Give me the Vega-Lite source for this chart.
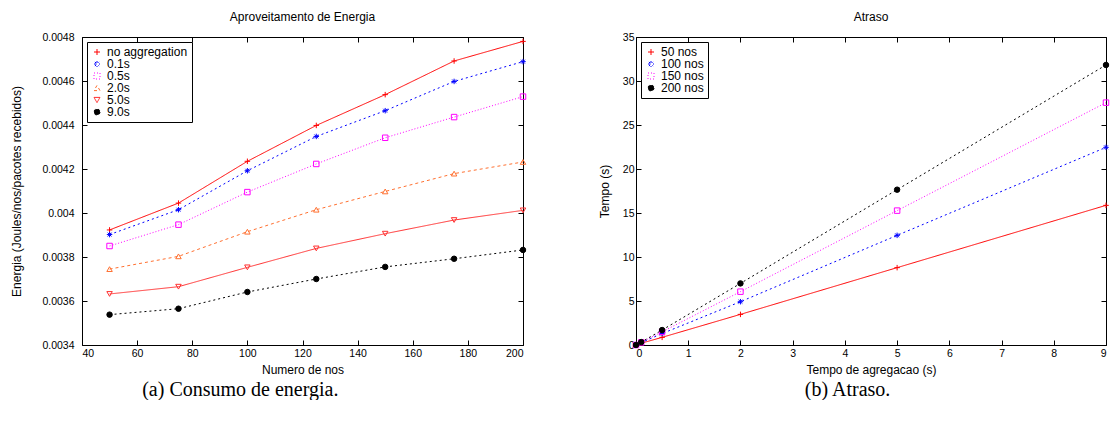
{
  "$schema": "https://vega.github.io/schema/vega-lite/v6.json",
  "padding": {"left": 10, "top": 10, "right": 0, "bottom": 0},
  "config": {
    "font": "Liberation Sans",
    "view": {"stroke": "black", "strokeWidth": 1},
    "axis": {
      "labelFont": "Liberation Sans", "labelFontSize": 10.5, "labelColor": "black",
      "titleFont": "Liberation Sans", "titleFontSize": 12, "titleFontWeight": "normal", "titleColor": "black",
      "tickColor": "black", "tickSize": -5, "domain": false, "grid": false
    },
    "axisX": {"labelPadding": 8},
    "title": {"font": "Liberation Sans", "fontSize": 12, "fontWeight": "normal", "color": "black", "offset": 8},
    "legend": {
      "orient": "top-left", "offset": 5, "strokeColor": "black", "fillColor": "white", "padding": 4,
      "labelFont": "Liberation Sans", "labelFontSize": 12, "rowPadding": 0, "symbolSize": 36,
      "symbolStrokeWidth": 1, "title": null
    }
  },
  "resolve": {
    "scale": {"color": "independent", "shape": "independent", "strokeDash": "independent", "fill": "independent", "strokeWidth": "independent"},
    "legend": {"color": "independent", "shape": "independent"}
  },
  "datasets": {
    "energy": [
      {"nos": 50, "serie": "no aggregation", "e": 0.003923},
      {"nos": 75, "serie": "no aggregation", "e": 0.004045},
      {"nos": 100, "serie": "no aggregation", "e": 0.004235},
      {"nos": 125, "serie": "no aggregation", "e": 0.004398},
      {"nos": 150, "serie": "no aggregation", "e": 0.004538},
      {"nos": 175, "serie": "no aggregation", "e": 0.004691},
      {"nos": 200, "serie": "no aggregation", "e": 0.00478},
      {"nos": 50, "serie": "0.1s", "e": 0.003902},
      {"nos": 75, "serie": "0.1s", "e": 0.004015},
      {"nos": 100, "serie": "0.1s", "e": 0.004192},
      {"nos": 125, "serie": "0.1s", "e": 0.004348},
      {"nos": 150, "serie": "0.1s", "e": 0.004465},
      {"nos": 175, "serie": "0.1s", "e": 0.004598},
      {"nos": 200, "serie": "0.1s", "e": 0.004688},
      {"nos": 50, "serie": "0.5s", "e": 0.00385},
      {"nos": 75, "serie": "0.5s", "e": 0.003947},
      {"nos": 100, "serie": "0.5s", "e": 0.004095},
      {"nos": 125, "serie": "0.5s", "e": 0.004223},
      {"nos": 150, "serie": "0.5s", "e": 0.004342},
      {"nos": 175, "serie": "0.5s", "e": 0.004436},
      {"nos": 200, "serie": "0.5s", "e": 0.004529},
      {"nos": 50, "serie": "2.0s", "e": 0.003745},
      {"nos": 75, "serie": "2.0s", "e": 0.003803},
      {"nos": 100, "serie": "2.0s", "e": 0.003915},
      {"nos": 125, "serie": "2.0s", "e": 0.004015},
      {"nos": 150, "serie": "2.0s", "e": 0.004098},
      {"nos": 175, "serie": "2.0s", "e": 0.004179},
      {"nos": 200, "serie": "2.0s", "e": 0.004232},
      {"nos": 50, "serie": "5.0s", "e": 0.003632},
      {"nos": 75, "serie": "5.0s", "e": 0.003665},
      {"nos": 100, "serie": "5.0s", "e": 0.003753},
      {"nos": 125, "serie": "5.0s", "e": 0.003839},
      {"nos": 150, "serie": "5.0s", "e": 0.003906},
      {"nos": 175, "serie": "5.0s", "e": 0.003968},
      {"nos": 200, "serie": "5.0s", "e": 0.004012},
      {"nos": 50, "serie": "9.0s", "e": 0.003538},
      {"nos": 75, "serie": "9.0s", "e": 0.003565},
      {"nos": 100, "serie": "9.0s", "e": 0.003641},
      {"nos": 125, "serie": "9.0s", "e": 0.0037},
      {"nos": 150, "serie": "9.0s", "e": 0.003755},
      {"nos": 175, "serie": "9.0s", "e": 0.003792},
      {"nos": 200, "serie": "9.0s", "e": 0.003832}
    ],
    "delay": [
      {"t": 0, "serie": "50 nos", "d": 0},
      {"t": 0.1, "serie": "50 nos", "d": 0.2},
      {"t": 0.5, "serie": "50 nos", "d": 0.87},
      {"t": 2, "serie": "50 nos", "d": 3.48},
      {"t": 5, "serie": "50 nos", "d": 8.79},
      {"t": 9, "serie": "50 nos", "d": 15.87},
      {"t": 0, "serie": "100 nos", "d": 0},
      {"t": 0.1, "serie": "100 nos", "d": 0.27},
      {"t": 0.5, "serie": "100 nos", "d": 1.3},
      {"t": 2, "serie": "100 nos", "d": 4.92},
      {"t": 5, "serie": "100 nos", "d": 12.46},
      {"t": 9, "serie": "100 nos", "d": 22.46},
      {"t": 0, "serie": "150 nos", "d": 0},
      {"t": 0.1, "serie": "150 nos", "d": 0.3},
      {"t": 0.5, "serie": "150 nos", "d": 1.5},
      {"t": 2, "serie": "150 nos", "d": 6.06},
      {"t": 5, "serie": "150 nos", "d": 15.27},
      {"t": 9, "serie": "150 nos", "d": 27.54},
      {"t": 0, "serie": "200 nos", "d": 0},
      {"t": 0.1, "serie": "200 nos", "d": 0.33},
      {"t": 0.5, "serie": "200 nos", "d": 1.7},
      {"t": 2, "serie": "200 nos", "d": 7.0},
      {"t": 5, "serie": "200 nos", "d": 17.65},
      {"t": 9, "serie": "200 nos", "d": 31.82}
    ]
  },
  "spacing": 68,
  "hconcat": [
    {
      "title": {"text": "(a) Consumo de energia.", "orient": "bottom", "anchor": "middle", "font": "Liberation Serif", "fontSize": 20, "fontWeight": "normal", "offset": 4, "dx": -29},
      "vconcat": [
        {
          "title": "Aproveitamento de Energia",
          "width": 441, "height": 308,
          "data": {"name": "energy"},
          "resolve": {"axis": {"x": "independent", "y": "independent"}},
          "layer": [
            {
              "mark": {"type": "line", "strokeWidth": 1},
              "encoding": {
                "x": {"field": "nos", "type": "quantitative", "scale": {"domain": [40, 200], "nice": false}, "axis": {"values": [40, 60, 80, 100, 120, 140, 160, 180, 200], "title": "Numero de nos", "titlePadding": 6}},
                "y": {"field": "e", "type": "quantitative", "scale": {"domain": [0.0034, 0.0048], "nice": false, "zero": false}, "axis": {"values": [0.0034, 0.0036, 0.0038, 0.004, 0.0042, 0.0044, 0.0046, 0.0048], "format": "~f", "title": "Energia (Joules/nos/pacotes recebidos)", "titlePadding": 18, "labelPadding": 13}},
                "color": {"field": "serie", "type": "nominal", "sort": null, "scale": {"domain": ["no aggregation", "0.1s", "0.5s", "2.0s", "5.0s", "9.0s"], "range": ["#ff0000", "#0000ff", "#ff00ff", "#ff7030", "#ff3030", "#000000"]}},
                "strokeDash": {"field": "serie", "type": "nominal", "scale": {"domain": ["no aggregation", "0.1s", "0.5s", "2.0s", "5.0s", "9.0s"], "range": [[1, 0], [2, 3], [1, 2], [3, 3], [1, 0], [2, 3]]}, "legend": null},
                "strokeWidth": {"field": "serie", "type": "nominal", "scale": {"domain": ["no aggregation", "0.1s", "0.5s", "2.0s", "5.0s", "9.0s"], "range": [1, 1, 1, 1, 1.6, 1]}, "legend": null}
              }
            },
            {
              "mark": {"type": "point", "filled": false, "size": 30, "strokeWidth": 1, "opacity": 1},
              "encoding": {
                "x": {"field": "nos", "type": "quantitative", "axis": {"orient": "top", "labels": false, "title": null, "values": [40, 60, 80, 100, 120, 140, 160, 180, 200]}},
                "y": {"field": "e", "type": "quantitative", "axis": {"orient": "right", "labels": false, "title": null, "values": [0.0034, 0.0036, 0.0038, 0.004, 0.0042, 0.0044, 0.0046, 0.0048]}},
                "color": {"field": "serie", "type": "nominal", "sort": null, "legend": {}},
                "shape": {"field": "serie", "type": "nominal", "sort": null, "scale": {"domain": ["no aggregation", "0.1s", "0.5s", "2.0s", "5.0s", "9.0s"], "range": ["M-1,0H1M0,-1V1", "M-1,0H1M0,-1V1M-0.7,-0.7L0.7,0.7M-0.7,0.7L0.7,-0.7", "square", "triangle-up", "triangle-down", "circle"]}},
                "fill": {"field": "serie", "type": "nominal", "scale": {"domain": ["no aggregation", "0.1s", "0.5s", "2.0s", "5.0s", "9.0s"], "range": ["transparent", "transparent", "transparent", "transparent", "transparent", "#000000"]}, "legend": null}
              }
            }
          ]
        }
      ]
    },
    {
      "title": {"text": "(b) Atraso.", "orient": "bottom", "anchor": "middle", "font": "Liberation Serif", "fontSize": 20, "fontWeight": "normal", "offset": 4, "dx": -7},
      "vconcat": [
        {
          "title": "Atraso",
          "width": 470, "height": 308,
          "data": {"name": "delay"},
          "resolve": {"axis": {"x": "independent", "y": "independent"}},
          "layer": [
            {
              "mark": {"type": "line", "strokeWidth": 1},
              "encoding": {
                "x": {"field": "t", "type": "quantitative", "scale": {"domain": [0, 9], "nice": false}, "axis": {"values": [0, 1, 2, 3, 4, 5, 6, 7, 8, 9], "title": "Tempo de agregacao (s)", "titlePadding": 6}},
                "y": {"field": "d", "type": "quantitative", "scale": {"domain": [0, 35], "nice": false}, "axis": {"values": [0, 5, 10, 15, 20, 25, 30, 35], "title": "Tempo (s)", "titlePadding": 11, "labelPadding": 7}},
                "color": {"field": "serie", "type": "nominal", "sort": null, "scale": {"domain": ["50 nos", "100 nos", "150 nos", "200 nos"], "range": ["#ff0000", "#0000ff", "#ff00ff", "#000000"]}},
                "strokeDash": {"field": "serie", "type": "nominal", "scale": {"domain": ["50 nos", "100 nos", "150 nos", "200 nos"], "range": [[1, 0], [2, 3], [1, 2], [2, 3]]}, "legend": null}
              }
            },
            {
              "mark": {"type": "point", "filled": false, "size": 30, "strokeWidth": 1, "opacity": 1},
              "encoding": {
                "x": {"field": "t", "type": "quantitative", "axis": {"orient": "top", "labels": false, "title": null, "values": [0, 1, 2, 3, 4, 5, 6, 7, 8, 9]}},
                "y": {"field": "d", "type": "quantitative", "axis": {"orient": "right", "labels": false, "title": null, "values": [0, 5, 10, 15, 20, 25, 30, 35]}},
                "color": {"field": "serie", "type": "nominal", "sort": null, "legend": {}},
                "shape": {"field": "serie", "type": "nominal", "sort": null, "scale": {"domain": ["50 nos", "100 nos", "150 nos", "200 nos"], "range": ["M-1,0H1M0,-1V1", "M-1,0H1M0,-1V1M-0.7,-0.7L0.7,0.7M-0.7,0.7L0.7,-0.7", "square", "circle"]}},
                "fill": {"field": "serie", "type": "nominal", "scale": {"domain": ["50 nos", "100 nos", "150 nos", "200 nos"], "range": ["transparent", "transparent", "transparent", "#000000"]}, "legend": null}
              }
            }
          ]
        }
      ]
    }
  ]
}
